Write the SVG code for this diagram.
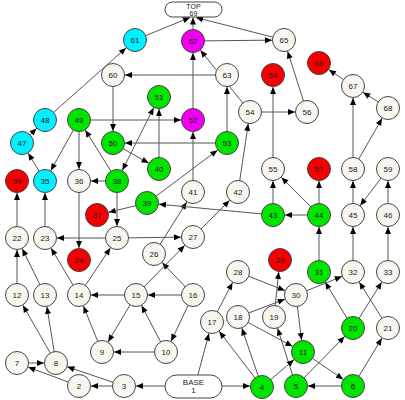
<svg xmlns="http://www.w3.org/2000/svg" width="405" height="400" viewBox="0 0 405 400">
<style>
.n circle{stroke:#444;stroke-width:1}
.n rect{fill:#fff;stroke:#444;stroke-width:1}
.w{fill:#f8f6ee}.g{fill:#00e400}.c{fill:#00f0ff}.m{fill:#f000f0}.r{fill:#f40000}
text{font-family:"Liberation Sans",Arial,sans-serif;font-size:8px;text-anchor:middle;fill:#222}
#edges line{stroke:#555;stroke-width:1;marker-end:url(#a)}
#edges line.t{marker-end:url(#t)}
#edges line.d{marker-start:url(#a)}
</style>
<defs>
<marker id="a" markerUnits="userSpaceOnUse" markerWidth="1" markerHeight="1" refX="0" refY="0" orient="auto-start-reverse" style="overflow:visible"><path d="M-19,-3 L-12,0 L-19,3 z" fill="#000"/></marker>
<marker id="t" markerUnits="userSpaceOnUse" markerWidth="1" markerHeight="1" refX="0" refY="0" orient="auto" style="overflow:visible"><path d="M-7,-3 L0,0 L-7,3 z" fill="#000"/></marker>
</defs>
<rect width="405" height="400" fill="#fff"/>
<g id="edges">
<line class="t" x1="135" y1="40" x2="190" y2="17.5"/>
<line class="t" x1="193" y1="41" x2="193" y2="17.5"/>
<line class="t" x1="284" y1="40" x2="196" y2="17.5"/>
<line x1="193" y1="41" x2="284" y2="40"/>
<line x1="227" y1="75" x2="113" y2="75"/>
<line x1="113" y1="75" x2="113" y2="143"/>
<line x1="227" y1="143" x2="227" y2="75"/>
<line x1="193" y1="120" x2="193" y2="41"/>
<line x1="250" y1="112" x2="193" y2="41"/>
<line x1="193" y1="192" x2="193" y2="120"/>
<line x1="79" y1="120" x2="193" y2="120"/>
<line x1="227" y1="143" x2="113" y2="143"/>
<line x1="113" y1="143" x2="159" y2="169"/>
<line x1="159" y1="169" x2="159" y2="97"/>
<line class="d" x1="117" y1="181" x2="159" y2="97"/>
<line x1="117" y1="181" x2="79" y2="120"/>
<line x1="45" y1="120" x2="135" y2="40"/>
<line x1="22" y1="143" x2="45" y2="120"/>
<line x1="45" y1="181" x2="22" y2="143"/>
<line x1="79" y1="120" x2="45" y2="181"/>
<line x1="79" y1="120" x2="79" y2="181"/>
<line x1="117" y1="181" x2="79" y2="181"/>
<line x1="79" y1="181" x2="79" y2="260"/>
<line x1="117" y1="181" x2="117" y2="238"/>
<line x1="147" y1="203" x2="97" y2="215"/>
<line x1="117" y1="238" x2="45" y2="238"/>
<line x1="117" y1="238" x2="193" y2="237"/>
<line x1="45" y1="238" x2="45" y2="181"/>
<line x1="17" y1="238" x2="17" y2="181"/>
<line x1="17" y1="295" x2="17" y2="238"/>
<line x1="45" y1="295" x2="17" y2="238"/>
<line x1="79" y1="295" x2="45" y2="238"/>
<line x1="79" y1="295" x2="117" y2="238"/>
<line x1="136" y1="295" x2="79" y2="295"/>
<line x1="193" y1="295" x2="136" y2="295"/>
<line x1="136" y1="295" x2="102" y2="352"/>
<line x1="166" y1="352" x2="136" y2="295"/>
<line x1="193" y1="295" x2="166" y2="352"/>
<line x1="166" y1="352" x2="102" y2="352"/>
<line x1="102" y1="352" x2="79" y2="295"/>
<line x1="193" y1="295" x2="154" y2="254"/>
<line x1="136" y1="295" x2="193" y2="237"/>
<line x1="154" y1="254" x2="193" y2="192"/>
<line x1="193" y1="237" x2="238" y2="192"/>
<line x1="238" y1="192" x2="250" y2="112"/>
<line x1="250" y1="112" x2="307" y2="112"/>
<line x1="307" y1="112" x2="284" y2="40"/>
<line x1="273" y1="169" x2="273" y2="75"/>
<line x1="353" y1="169" x2="353" y2="86"/>
<line x1="353" y1="86" x2="319" y2="63"/>
<line x1="388" y1="108" x2="353" y2="86"/>
<line x1="353" y1="169" x2="388" y2="108"/>
<line x1="353" y1="215" x2="353" y2="169"/>
<line x1="388" y1="169" x2="353" y2="215"/>
<line x1="388" y1="215" x2="388" y2="169"/>
<line x1="319" y1="215" x2="319" y2="169"/>
<line x1="319" y1="215" x2="273" y2="215"/>
<line x1="319" y1="215" x2="273" y2="169"/>
<line x1="273" y1="215" x2="273" y2="169"/>
<line x1="319" y1="272" x2="319" y2="215"/>
<line x1="353" y1="272" x2="353" y2="215"/>
<line x1="388" y1="272" x2="388" y2="215"/>
<line x1="273" y1="215" x2="147" y2="203"/>
<line x1="147" y1="203" x2="227" y2="143"/>
<line x1="353" y1="328" x2="319" y2="272"/>
<line x1="353" y1="328" x2="388" y2="272"/>
<line x1="388" y1="328" x2="353" y2="272"/>
<line x1="296" y1="295" x2="353" y2="272"/>
<line x1="353" y1="386" x2="388" y2="328"/>
<line x1="296" y1="386" x2="353" y2="328"/>
<line x1="303" y1="352" x2="353" y2="386"/>
<line x1="353" y1="386" x2="296" y2="386"/>
<line x1="296" y1="386" x2="274" y2="317"/>
<line x1="296" y1="295" x2="303" y2="352"/>
<line x1="274" y1="317" x2="280" y2="260"/>
<line x1="238" y1="272" x2="296" y2="295"/>
<line x1="238" y1="317" x2="296" y2="295"/>
<line x1="238" y1="317" x2="303" y2="352"/>
<line x1="262" y1="387" x2="303" y2="352"/>
<line x1="262" y1="387" x2="238" y2="317"/>
<line x1="262" y1="387" x2="212" y2="322"/>
<line x1="196" y1="382" x2="212" y2="322"/>
<line x1="212" y1="322" x2="238" y2="272"/>
<line x1="193" y1="386" x2="262" y2="386"/>
<line x1="193" y1="386" x2="124" y2="386"/>
<line x1="124" y1="386" x2="79" y2="386"/>
<line x1="124" y1="386" x2="56" y2="363"/>
<line x1="79" y1="386" x2="17" y2="363"/>
<line x1="17" y1="363" x2="56" y2="363"/>
<line x1="56" y1="363" x2="17" y2="295"/>
<line x1="56" y1="363" x2="45" y2="295"/>
</g>
<g id="n69" class="n"><rect x="165" y="2" width="57" height="15" rx="7.5"/><text x="193.5" y="8.5" style="font-size:7px">TOP</text><text x="193.5" y="15.5" style="font-size:7px">69</text></g>
<g id="n1" class="n"><rect x="165" y="375" width="57" height="23" rx="11.5"/><text x="193.5" y="384.5">BASE</text><text x="193.5" y="393">1</text></g>
<g id="n61" class="n"><circle class="c" cx="135" cy="40" r="11.5"/><text x="135" y="43">61</text></g>
<g id="n62" class="n"><circle class="m" cx="193" cy="41" r="11.5"/><text x="193" y="44">62</text></g>
<g id="n65" class="n"><circle class="w" cx="284" cy="40" r="11.5"/><text x="284" y="43">65</text></g>
<g id="n60" class="n"><circle class="w" cx="113" cy="75" r="11.5"/><text x="113" y="78">60</text></g>
<g id="n63" class="n"><circle class="w" cx="227" cy="75" r="11.5"/><text x="227" y="78">63</text></g>
<g id="n64" class="n"><circle class="r" cx="273" cy="75" r="11.5"/><text x="273" y="78">64</text></g>
<g id="n66" class="n"><circle class="r" cx="319" cy="63" r="11.5"/><text x="319" y="66">66</text></g>
<g id="n67" class="n"><circle class="w" cx="353" cy="86" r="11.5"/><text x="353" y="89">67</text></g>
<g id="n68" class="n"><circle class="w" cx="388" cy="108" r="11.5"/><text x="388" y="111">68</text></g>
<g id="n54" class="n"><circle class="w" cx="250" cy="112" r="11.5"/><text x="250" y="115">54</text></g>
<g id="n56" class="n"><circle class="w" cx="307" cy="112" r="11.5"/><text x="307" y="115">56</text></g>
<g id="n51" class="n"><circle class="g" cx="159" cy="97" r="11.5"/><text x="159" y="100">51</text></g>
<g id="n48" class="n"><circle class="c" cx="45" cy="120" r="11.5"/><text x="45" y="123">48</text></g>
<g id="n49" class="n"><circle class="g" cx="79" cy="120" r="11.5"/><text x="79" y="123">49</text></g>
<g id="n52" class="n"><circle class="m" cx="193" cy="120" r="11.5"/><text x="193" y="123">52</text></g>
<g id="n50" class="n"><circle class="g" cx="113" cy="143" r="11.5"/><text x="113" y="146">50</text></g>
<g id="n53" class="n"><circle class="g" cx="227" cy="143" r="11.5"/><text x="227" y="146">53</text></g>
<g id="n47" class="n"><circle class="c" cx="22" cy="143" r="11.5"/><text x="22" y="146">47</text></g>
<g id="n40" class="n"><circle class="g" cx="159" cy="169" r="11.5"/><text x="159" y="172">40</text></g>
<g id="n55" class="n"><circle class="w" cx="273" cy="169" r="11.5"/><text x="273" y="172">55</text></g>
<g id="n57" class="n"><circle class="r" cx="319" cy="169" r="11.5"/><text x="319" y="172">57</text></g>
<g id="n58" class="n"><circle class="w" cx="353" cy="169" r="11.5"/><text x="353" y="172">58</text></g>
<g id="n59" class="n"><circle class="w" cx="388" cy="169" r="11.5"/><text x="388" y="172">59</text></g>
<g id="n34" class="n"><circle class="r" cx="17" cy="181" r="11.5"/><text x="17" y="184">34</text></g>
<g id="n35" class="n"><circle class="c" cx="45" cy="181" r="11.5"/><text x="45" y="184">35</text></g>
<g id="n36" class="n"><circle class="w" cx="79" cy="181" r="11.5"/><text x="79" y="184">36</text></g>
<g id="n38" class="n"><circle class="g" cx="117" cy="181" r="11.5"/><text x="117" y="184">38</text></g>
<g id="n41" class="n"><circle class="w" cx="193" cy="192" r="11.5"/><text x="193" y="195">41</text></g>
<g id="n42" class="n"><circle class="w" cx="238" cy="192" r="11.5"/><text x="238" y="195">42</text></g>
<g id="n39" class="n"><circle class="g" cx="147" cy="203" r="11.5"/><text x="147" y="206">39</text></g>
<g id="n37" class="n"><circle class="r" cx="97" cy="215" r="11.5"/><text x="97" y="218">37</text></g>
<g id="n43" class="n"><circle class="g" cx="273" cy="215" r="11.5"/><text x="273" y="218">43</text></g>
<g id="n44" class="n"><circle class="g" cx="319" cy="215" r="11.5"/><text x="319" y="218">44</text></g>
<g id="n45" class="n"><circle class="w" cx="353" cy="215" r="11.5"/><text x="353" y="218">45</text></g>
<g id="n46" class="n"><circle class="w" cx="388" cy="215" r="11.5"/><text x="388" y="218">46</text></g>
<g id="n22" class="n"><circle class="w" cx="17" cy="238" r="11.5"/><text x="17" y="241">22</text></g>
<g id="n23" class="n"><circle class="w" cx="45" cy="238" r="11.5"/><text x="45" y="241">23</text></g>
<g id="n25" class="n"><circle class="w" cx="117" cy="238" r="11.5"/><text x="117" y="241">25</text></g>
<g id="n27" class="n"><circle class="w" cx="193" cy="237" r="11.5"/><text x="193" y="240">27</text></g>
<g id="n26" class="n"><circle class="w" cx="154" cy="254" r="11.5"/><text x="154" y="257">26</text></g>
<g id="n24" class="n"><circle class="r" cx="79" cy="260" r="11.5"/><text x="79" y="263">24</text></g>
<g id="n29" class="n"><circle class="r" cx="280" cy="260" r="11.5"/><text x="280" y="263">29</text></g>
<g id="n28" class="n"><circle class="w" cx="238" cy="272" r="11.5"/><text x="238" y="275">28</text></g>
<g id="n31" class="n"><circle class="g" cx="319" cy="272" r="11.5"/><text x="319" y="275">31</text></g>
<g id="n32" class="n"><circle class="w" cx="353" cy="272" r="11.5"/><text x="353" y="275">32</text></g>
<g id="n33" class="n"><circle class="w" cx="388" cy="272" r="11.5"/><text x="388" y="275">33</text></g>
<g id="n12" class="n"><circle class="w" cx="17" cy="295" r="11.5"/><text x="17" y="298">12</text></g>
<g id="n13" class="n"><circle class="w" cx="45" cy="295" r="11.5"/><text x="45" y="298">13</text></g>
<g id="n14" class="n"><circle class="w" cx="79" cy="295" r="11.5"/><text x="79" y="298">14</text></g>
<g id="n15" class="n"><circle class="w" cx="136" cy="295" r="11.5"/><text x="136" y="298">15</text></g>
<g id="n16" class="n"><circle class="w" cx="193" cy="295" r="11.5"/><text x="193" y="298">16</text></g>
<g id="n30" class="n"><circle class="w" cx="296" cy="295" r="11.5"/><text x="296" y="298">30</text></g>
<g id="n18" class="n"><circle class="w" cx="238" cy="317" r="11.5"/><text x="238" y="320">18</text></g>
<g id="n19" class="n"><circle class="w" cx="274" cy="317" r="11.5"/><text x="274" y="320">19</text></g>
<g id="n17" class="n"><circle class="w" cx="212" cy="322" r="11.5"/><text x="212" y="325">17</text></g>
<g id="n20" class="n"><circle class="g" cx="353" cy="328" r="11.5"/><text x="353" y="331">20</text></g>
<g id="n21" class="n"><circle class="w" cx="388" cy="328" r="11.5"/><text x="388" y="331">21</text></g>
<g id="n9" class="n"><circle class="w" cx="102" cy="352" r="11.5"/><text x="102" y="355">9</text></g>
<g id="n10" class="n"><circle class="w" cx="166" cy="352" r="11.5"/><text x="166" y="355">10</text></g>
<g id="n11" class="n"><circle class="g" cx="303" cy="352" r="11.5"/><text x="303" y="355">11</text></g>
<g id="n7" class="n"><circle class="w" cx="17" cy="363" r="11.5"/><text x="17" y="366">7</text></g>
<g id="n8" class="n"><circle class="w" cx="56" cy="363" r="11.5"/><text x="56" y="366">8</text></g>
<g id="n2" class="n"><circle class="w" cx="79" cy="386" r="11.5"/><text x="79" y="389">2</text></g>
<g id="n3" class="n"><circle class="w" cx="124" cy="386" r="11.5"/><text x="124" y="389">3</text></g>
<g id="n4" class="n"><circle class="g" cx="262" cy="387" r="11.5"/><text x="262" y="390">4</text></g>
<g id="n5" class="n"><circle class="g" cx="296" cy="386" r="11.5"/><text x="296" y="389">5</text></g>
<g id="n6" class="n"><circle class="g" cx="353" cy="386" r="11.5"/><text x="353" y="389">6</text></g>
</svg>
